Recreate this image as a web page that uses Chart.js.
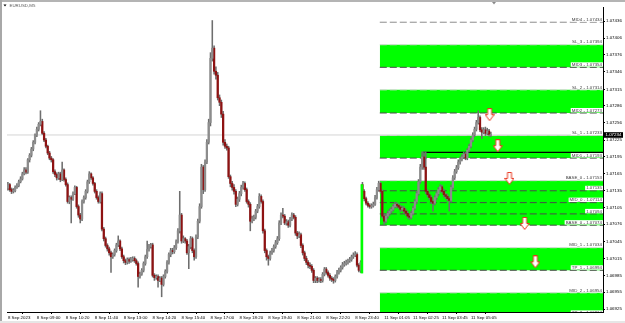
<!DOCTYPE html>
<html>
<head>
<meta charset="utf-8">
<script src="https://cdn.jsdelivr.net/npm/chart.js@4.4.1/dist/chart.umd.min.js"></script>
<style>
  html, body { margin: 0; padding: 0; background: #fff; }
  canvas { display: block; }
</style>
</head>
<body>
<canvas id="chart" width="625" height="323"></canvas>
<script>
// ===== Data (prices in points above 1.07000, 1 point = 0.00001) =====
const symbolTitle = "EURUSD,M5";

const firstOpen = 140;
const mondayIndex = 196;
const mondayOpen = 146;

const closes = [
  146,137,134,135,141,144,151,156,165,172,
  168,190,198,209,221,234,244,253,258,237,
  225,214,202,193,190,169,164,158,165,155,
  172,155,146,116,123,120,130,141,107,92,
  85,116,123,134,151,165,158,148,134,123,
  116,130,67,50,38,32,25,18,22,29,
  39,46,32,18,11,8,13,10,13,15,
  11,6,-17,-13,-6,6,18,31,36,39,
  -15,-19,-17,-24,-20,-31,-17,-8,8,22,
  29,27,34,45,64,92,46,50,46,25,
  36,50,29,18,53,81,107,177,137,186,
  221,256,370,388,347,340,300,292,271,221,
  214,211,160,148,141,134,111,120,130,141,
  148,137,116,111,81,85,88,99,107,125,
  116,64,29,18,15,25,29,36,43,50,
  78,92,90,78,80,74,85,92,88,60,
  55,57,38,25,15,8,3,1,-6,-24,
  -20,-24,-22,-24,-13,-4,-10,-15,-20,-22,
  -24,-17,-10,-6,-1,4,6,8,11,13,
  18,21,22,3,-6,8,
  134,121,113,109,
  107,108,111,123,137,148,134,90,81,90,
  95,99,102,107,111,109,106,102,104,99,
  95,90,88,95,104,116,130,151,177,195,
  177,134,128,123,116,113,123,130,137,142,
  134,128,125,121,118,141,158,169,176,186,
  191,195,200,193,207,214,225,234,244,256,
  265,243,239,243,237,241,235,235
];

const highs = [
  150,148,140,139,144,148,154,160,168,176,
  176,192,201,212,224,236,248,256,277,262,
  240,228,216,205,196,192,172,167,168,168,
  186,174,158,149,126,126,133,144,143,110,
  95,119,126,137,154,169,167,160,150,137,
  126,133,133,70,53,41,35,28,25,32,
  42,55,48,35,21,14,16,16,17,18,
  18,14,9,-9,-3,9,21,46,40,42,
  42,-12,-14,-14,-17,-17,-14,-5,11,25,
  33,33,38,48,68,134,95,55,52,49,
  40,54,53,32,57,85,112,182,180,190,
  226,262,380,437,392,355,345,305,296,276,
  226,218,214,163,152,146,137,124,134,145,
  152,151,140,119,114,90,92,102,111,130,
  128,119,67,32,21,28,33,39,47,54,
  82,96,104,93,84,83,88,96,95,91,
  63,62,60,41,28,19,11,7,4,-3,
  -17,-17,-19,-19,-10,-1,-1,-7,-12,-17,
  -19,-14,-6,-2,2,8,10,12,14,17,
  21,25,27,25,6,11,
  150,137,124,116,
  112,112,115,127,141,152,150,137,94,94,
  99,103,106,111,115,114,112,109,108,107,
  103,99,94,99,108,120,134,155,182,204,
  204,204,137,131,126,119,126,133,141,146,
  145,138,131,129,124,145,162,173,180,190,
  195,199,204,203,210,218,229,238,248,260,
  277,268,247,247,248,246,244,239
];

const lows = [
  136,134,130,131,133,139,142,149,154,163,
  165,166,186,195,206,218,231,241,250,235,
  222,211,199,190,186,166,160,154,155,151,
  153,152,143,113,112,78,118,128,104,88,
  78,82,113,120,131,148,155,145,131,120,
  113,113,64,46,35,28,21,-10,15,19,
  26,36,29,15,7,4,5,6,8,10,
  8,3,-36,-20,-15,-9,3,15,28,33,
  -18,-24,-22,-36,-26,-53,-34,-20,-11,5,
  18,23,24,31,42,60,42,43,42,22,
  -3,32,25,12,15,50,78,104,130,134,
  183,218,250,365,342,333,296,286,265,216,
  210,207,157,142,136,129,107,108,116,126,
  138,134,113,106,64,78,82,85,96,104,
  113,60,25,12,3,12,22,26,33,40,
  47,75,87,75,74,70,71,82,85,56,
  50,52,34,21,11,4,-2,-3,-10,-28,
  -28,-28,-27,-28,-27,-16,-13,-18,-24,-26,
  -29,-27,-20,-13,-9,-4,1,3,5,8,
  10,15,18,0,-9,-10,
  131,117,110,106,
  104,104,106,109,120,134,131,87,76,78,
  86,91,96,99,104,105,103,98,99,95,
  91,86,84,85,92,101,112,127,148,173,
  173,130,124,119,112,99,110,119,126,133,
  131,124,121,117,99,115,138,155,166,173,
  182,188,192,190,190,204,211,222,231,241,
  253,240,228,236,233,234,232,231
];

const timeTicks = [0,16,32,48,64,80,96,112,128,144,160,176,192,208,224,240,256];
const timeLabels = [
  "8 Sep 2023","8 Sep 09:00","8 Sep 10:20","8 Sep 11:40","8 Sep 13:00",
  "8 Sep 14:20","8 Sep 15:40","8 Sep 17:00","8 Sep 18:20","8 Sep 19:40",
  "8 Sep 21:00","8 Sep 22:20","8 Sep 23:40","11 Sep 01:05","11 Sep 02:25",
  "11 Sep 03:45","11 Sep 05:05"
];

const priceTicks = [436,406,376,346,315,286,256,225,195,165,135,105,76,45,15,-15,-45,-75];

const levelNames  = ["MID4","SL_3","MID3","SL_2","MID2","SL_1","MID1","BASE_0","","MID_0","","BASE_0","MID_1","TP_1","MID_2","TP_2"];
const levelPrices = [434,394,354,314,273,233,193,153,135,114,94,74,34,-6,-46,-86];

const zoneTops    = [394,314,233,153,34,-46];
const zoneBottoms = [354,273,193,74,-6,-86];
const zoneStart = 205.6;
const zoneEnd = 329;

const currentPrice = 234;
const entryPrice = 203;
const entryStart = 229.5;

const gapIndex = 195.7;
const gapRange = [-11, 146];

const arrowIdx   = [266.3, 270.8, 277.3, 285.7, 291.6];
const arrowPrice = [270, 215, 157, 77, 9];

// ===== Helpers =====
function toPrice(v) {
    return (1.07 + v / 100000).toFixed(5);
}

function makeArrow() {
    const c = document.createElement("canvas");
    c.width = 10;
    c.height = 13;
    const g = c.getContext("2d");
    g.beginPath();
    g.moveTo(3, 0.5);
    g.lineTo(7, 0.5);
    g.lineTo(7, 6.5);
    g.lineTo(9.5, 6.5);
    g.lineTo(5, 12.5);
    g.lineTo(0.5, 6.5);
    g.lineTo(3, 6.5);
    g.closePath();
    g.fillStyle = "#ffffff";
    g.fill();
    g.strokeStyle = "#e8361f";
    g.lineWidth = 1;
    g.stroke();
    return c;
}

const opens = closes.map((c, i) =>
    i === 0 ? firstOpen : (i === mondayIndex ? mondayOpen : closes[i - 1]));

const bull = [], bear = [], wicks = [];
closes.forEach((c, i) => {
    wicks.push({ x: i, y: [lows[i], highs[i]] });
    if (c >= opens[i]) bull.push({ x: i, y: [opens[i], c] });
    else bear.push({ x: i, y: [c, opens[i]] });
});

// ===== Datasets =====
const datasets = [];

zoneTops.forEach((top, k) => {
    datasets.push({
        type: "line",
        data: [{ x: zoneStart, y: top }, { x: zoneEnd, y: top }],
        borderWidth: 0,
        pointRadius: 0,
        backgroundColor: "#00ff00",
        fill: { value: zoneBottoms[k] },
        order: 30
    });
});

levelPrices.forEach(p => {
    let color = "#4a4a4a";
    if (zoneTops.includes(p)) color = "#d2d2d2";
    if (p > zoneTops[0]) color = "#8c8c8c";
    datasets.push({
        type: "line",
        data: [{ x: zoneStart, y: p }, { x: zoneEnd, y: p }],
        borderColor: color,
        borderWidth: 1,
        borderDash: [7, 3],
        pointRadius: 0,
        fill: false,
        order: 20
    });
});

datasets.push({
    type: "line",
    data: [{ x: -0.5, y: currentPrice }, { x: zoneEnd, y: currentPrice }],
    borderColor: "#d4d4d4",
    borderWidth: 1,
    pointRadius: 0,
    fill: false,
    order: 25
});

datasets.push({
    type: "line",
    data: [{ x: entryStart, y: entryPrice }, { x: zoneEnd, y: entryPrice }],
    borderColor: "#000000",
    borderWidth: 1.2,
    pointRadius: 0,
    fill: false,
    order: 6
});

datasets.push({ data: wicks, backgroundColor: "#6e6e6e", barThickness: 0.9, order: 5 });
datasets.push({ data: bull, backgroundColor: "#8c8c8c", barThickness: 1.6, minBarLength: 1, order: 4 });
datasets.push({ data: bear, backgroundColor: "#8e1212", barThickness: 1.6, minBarLength: 1, order: 4 });
datasets.push({ data: [{ x: gapIndex, y: gapRange }], backgroundColor: "#00ff00", barThickness: 2, order: 3 });

const arrowImg = makeArrow();
datasets.push({
    type: "line",
    data: arrowIdx.map((x, i) => ({ x: x, y: arrowPrice[i] })),
    showLine: false,
    pointStyle: arrowImg,
    pointRadius: 6,
    order: 0
});

// ===== Frame, labels, title =====
const framePlugin = {
    id: "frame",
    beforeDraw(chart) {
        const ctx = chart.ctx;
        ctx.save();
        ctx.fillStyle = "#ffffff";
        ctx.fillRect(0, 0, chart.width, chart.height);
        ctx.fillStyle = "#b4b4b4";
        ctx.fillRect(0, 0, chart.width, 2);
        ctx.fillStyle = "#a8a8a8";
        ctx.fillRect(0, 0, 2, chart.height);
        ctx.fillStyle = "#e6e6e6";
        ctx.fillRect(0, chart.height - 2, chart.width, 2);
        ctx.restore();
    },
    afterDatasetsDraw(chart) {
        const ctx = chart.ctx;
        const area = chart.chartArea;
        const ys = chart.scales.y;
        ctx.save();
        ctx.beginPath();
        ctx.rect(area.left, area.top, area.right - area.left, area.bottom - area.top);
        ctx.clip();
        ctx.font = '4.4px "Liberation Sans"';
        ctx.textAlign = "right";
        ctx.textBaseline = "alphabetic";
        levelPrices.forEach((p, k) => {
            const y = ys.getPixelForValue(p);
            const txt = levelNames[k] ? levelNames[k] + " - " + toPrice(p) : toPrice(p);
            const w = ctx.measureText(txt).width;
            const r = area.right - 1;
            ctx.fillStyle = "#ffffff";
            ctx.fillRect(r - w - 1, y - 5, w + 2, 4.4);
            ctx.fillStyle = "#3c3c3c";
            ctx.fillText(txt, r, y - 1.3);
        });
        ctx.restore();
    },
    afterDraw(chart) {
        const ctx = chart.ctx;
        const area = chart.chartArea;
        const ys = chart.scales.y;
        ctx.save();

        // title
        ctx.fillStyle = "#000000";
        ctx.beginPath();
        ctx.moveTo(3.5, 4.6);
        ctx.lineTo(6.5, 4.6);
        ctx.lineTo(5, 6.6);
        ctx.closePath();
        ctx.fill();
        ctx.font = '4.4px "Liberation Sans"';
        ctx.fillStyle = "#5a5a5a";
        ctx.textAlign = "left";
        ctx.textBaseline = "middle";
        ctx.fillText(symbolTitle, 9.5, 5.8);

        // chart shift marker
        ctx.fillStyle = "#8a8a8a";
        ctx.beginPath();
        ctx.moveTo(492, 2);
        ctx.lineTo(496, 2);
        ctx.lineTo(494, 4.5);
        ctx.closePath();
        ctx.fill();

        // current price box
        const y = ys.getPixelForValue(currentPrice);
        ctx.fillStyle = "#000000";
        ctx.fillRect(area.right + 1, y - 2.8, 19, 5.6);
        ctx.fillStyle = "#ffffff";
        ctx.textAlign = "left";
        ctx.fillText(toPrice(currentPrice), area.right + 2.5, y + 0.2);
        ctx.restore();
    }
};

Chart.defaults.font.family = '"Liberation Sans", Arial, sans-serif';
Chart.defaults.font.size = 4.4;
Chart.defaults.color = "#000000";

new Chart(document.getElementById("chart"), {
    type: "bar",
    data: { datasets },
    options: {
        responsive: false,
        animation: false,
        layout: { padding: { left: 2, top: 0, right: 0, bottom: 0 } },
        datasets: { bar: { grouped: false } },
        plugins: {
            legend: { display: false },
            tooltip: { enabled: false }
        },
        scales: {
            x: {
                type: "linear",
                min: -0.5,
                max: zoneEnd,
                offset: false,
                grid: { drawOnChartArea: false, tickLength: 2, color: "#000000" },
                border: { color: "#000000" },
                ticks: {
                    autoSkip: false,
                    maxRotation: 0,
                    align: "start",
                    padding: 1,
                    color: "#000000",
                    callback: (v, i) => timeLabels[i]
                },
                afterBuildTicks: s => { s.ticks = timeTicks.map(v => ({ value: v })); },
                afterFit: s => { s.height = 11; }
            },
            y: {
                position: "right",
                min: -80,
                max: 461,
                grid: { drawOnChartArea: false, tickLength: 2, color: "#000000" },
                border: { color: "#000000" },
                ticks: {
                    autoSkip: false,
                    padding: 1,
                    color: "#000000",
                    font: { size: 4.4, lineHeight: 0.909 },
                    callback: v => toPrice(v)
                },
                afterBuildTicks: s => { s.ticks = priceTicks.map(v => ({ value: v })); },
                afterFit: s => { s.width = 22; }
            }
        }
    },
    plugins: [framePlugin]
});
</script>
</body>
</html>
